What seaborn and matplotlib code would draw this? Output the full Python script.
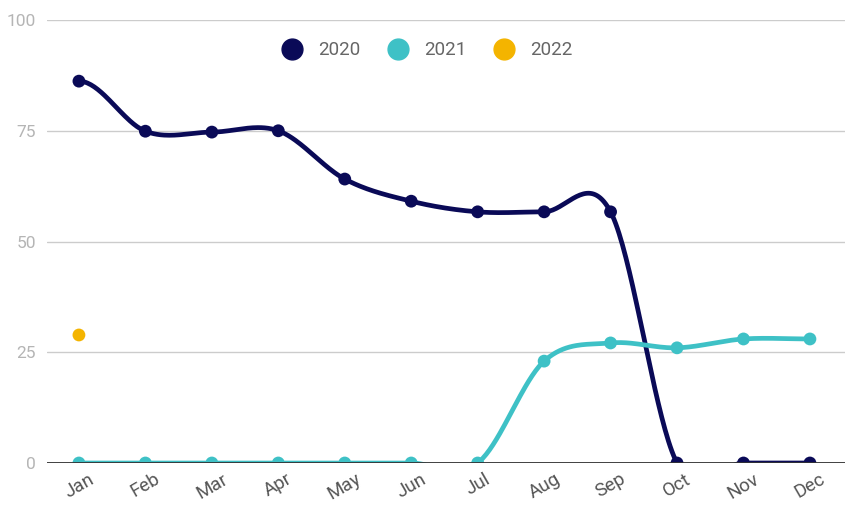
import numpy as np
import pandas as pd
import matplotlib
matplotlib.use("Agg")
import matplotlib.pyplot as plt
import seaborn as sns
from matplotlib.lines import Line2D

months = ["Jan", "Feb", "Mar", "Apr", "May", "Jun",
          "Jul", "Aug", "Sep", "Oct", "Nov", "Dec"]
y2020 = [86.2, 74.9, 74.7, 75.0, 64.1, 59.1, 56.7, 56.7, 56.7, 0, 0, 0]
y2021 = [0, 0, 0, 0, 0, 0, 0, 23.0, 27.1, 26.0, 28.0, 28.0]
y2022 = [28.9] + [np.nan] * 11

years = ["2020", "2021", "2022"]
colors = {"2020": "#0a0a57", "2021": "#3ec1c6", "2022": "#f4b400"}

df = pd.DataFrame({"month": months, "2020": y2020, "2021": y2021, "2022": y2022})
df["x"] = np.arange(len(months))
long = df.melt(id_vars=["month", "x"], value_vars=years,
               var_name="year", value_name="value").dropna()


def smooth(x, y, n=40):
    # catmull-rom style curve through the points
    x = np.asarray(x, float)
    y = np.asarray(y, float)
    if len(x) < 2:
        return x, y
    m = np.zeros_like(y)
    m[1:-1] = (y[2:] - y[:-2]) / 2
    xs, ys = [], []
    for i in range(len(x) - 1):
        t = np.linspace(0, 1, n)
        h00 = 2 * t**3 - 3 * t**2 + 1
        h10 = t**3 - 2 * t**2 + t
        h01 = -2 * t**3 + 3 * t**2
        h11 = t**3 - t**2
        xs.append(x[i] + t * (x[i + 1] - x[i]))
        ys.append(h00 * y[i] + h10 * m[i] + h01 * y[i + 1] + h11 * m[i + 1])
    return np.concatenate(xs), np.concatenate(ys)


sns.set_style("white")
plt.rcParams["font.family"] = ["Roboto", "DejaVu Sans"]

fig = plt.figure(figsize=(8.46, 5.16), dpi=100)
ax = fig.add_axes([0.0556, 0.1027, 0.9434, 0.8585])

for yr in years:
    sub = long[long["year"] == yr]
    sx, sy = smooth(sub["x"], sub["value"])
    ax.plot(sx, sy, color=colors[yr], lw=3.4, solid_capstyle="round", zorder=3)

sns.scatterplot(data=long, x="x", y="value", hue="year", palette=colors,
                s=85, edgecolor="none", legend=False, ax=ax, zorder=4)

ax.set_xlim(-0.48, 11.53)
ax.set_ylim(0, 100)
ax.set_yticks([0, 25, 50, 75, 100])
ax.set_xticks(df["x"])
ax.set_xticklabels(months, rotation=30, color="#555555", fontsize=13.5)
ax.tick_params(axis="y", colors="#b5b5b5", labelsize=12.5, length=0, pad=8)
ax.tick_params(axis="x", length=0, pad=5)
ax.grid(axis="y", color="#cccccc", lw=1)
ax.axhline(0, color="#333333", lw=1.3, zorder=5)
for s in ax.spines.values():
    s.set_visible(False)
ax.set_xlabel("")
ax.set_ylabel("")

handles = [Line2D([], [], marker="o", ls="", markersize=15,
                  color=colors[yr]) for yr in years]
ax.legend(handles, years, loc="upper center", bbox_to_anchor=(0.471, 0.99),
          ncol=3, frameon=False, fontsize=13.5, labelcolor="#666666",
          handletextpad=0.4, columnspacing=1.0)

fig.savefig("out.png", dpi=100)
